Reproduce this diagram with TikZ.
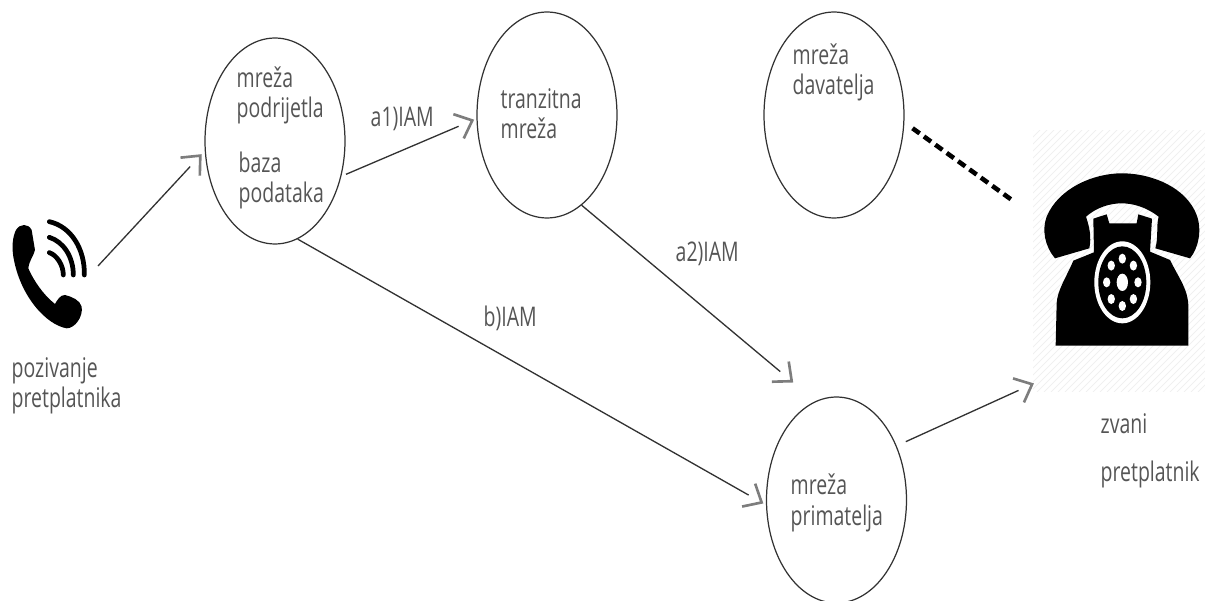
\documentclass[tikz,border=0pt]{standalone}
\usepackage{fontspec}
\setmainfont[FakeStretch=0.72]{Open Sans}
\usepackage{tikz}
\usetikzlibrary{positioning, shapes, arrows.meta}
\definecolor{mytext}{RGB}{85, 85, 85}
\definecolor{myline}{RGB}{50, 50, 50}
\definecolor{mybarb}{RGB}{125, 125, 125}
\definecolor{myhatch}{RGB}{240, 240, 240}

% open head that stands off from the end of its line
\pgfdeclarearrow{
  name = Gap Barb,
  setup code = {
    \pgfarrowssettipend{0pt}
    \pgfarrowssetlineend{-8.5pt}
    \pgfarrowssetvisualbackend{-8.5pt}
    \pgfarrowssetbackend{-8.5pt}
    \pgfarrowshullpoint{0pt}{0pt}
    \pgfarrowsupperhullpoint{-8.5pt}{7.5pt}
  },
  drawing code = {
    \pgfsetlinewidth{1.5pt}
    \pgfsetstrokecolor{mybarb}
    \pgfsetmiterjoin
    \pgfpathmoveto{\pgfqpoint{-8.5pt}{7.5pt}}
    \pgfpathlineto{\pgfqpoint{0pt}{0pt}}
    \pgfpathlineto{\pgfqpoint{-8.5pt}{-7.5pt}}
    \pgfusepathqstroke
  }
}

\begin{document}
\begin{tikzpicture}[x = 0.02cm, y = -0.02cm, thick,
    state/.style = {draw = myline, ellipse, line width = 0.7pt, inner sep = 0pt, minimum width = 2.8cm, minimum height = 4.12cm},
    icon/.style = {inner sep = 0pt, outer sep = 0pt},
    txt/.style = {align = left, anchor = base west, inner sep = 0pt, text = mytext, font = \fontsize{15.4}{17.6}\selectfont},
    flow/.style = {draw = myline, line width = 0.75pt, -{Gap Barb}}]
  \useasboundingbox (0, 0) rectangle (1205, 601);

  % nodes
  \node [state] (origin) at (275, 141) {};
  \node [state] (transit) at (547, 115) {};
  \node [state] (donor) at (834, 115) {};
  \node [state] (recipient) at (836.5, 500) {};
  \node [icon, minimum width = 1.72cm, minimum height = 2cm] (caller) at (55, 266) {};
  \node [icon, minimum width = 3.44cm, minimum height = 5.24cm] (callee) at (1119, 261) {};

  % hatch behind the telephone
  \begin{scope}
    \clip (callee.south west) rectangle (callee.north east);
    \foreach \i in {0, 7, ..., 440}
      \draw [myhatch, line width = 0.5pt] (1033 - 262 + \i, 392) -- (1033 + \i, 130);
  \end{scope}

  % telephone
  \begin{scope}[shift = {(1000, 120)}, x = 0.02cm / 3, y = -0.02cm / 3]
    \fill [black] (320, 283) -- (328, 310) -- (410, 310) -- (415, 283) -- (456, 296) -- (450, 395) -- (510, 420)
      .. controls (540, 480) and (565, 510) .. (565, 560) -- (565, 677) -- (167, 677) -- (170, 550)
      .. controls (172, 510) and (200, 470) .. (220, 422) -- (282, 397) -- (280, 296) -- cycle;
    \fill [black] (165, 415) .. controls (135, 380) and (125, 330) .. (140, 290)
      .. controls (175, 205) and (280, 160) .. (365, 160)
      .. controls (460, 160) and (560, 205) .. (590, 285)
      .. controls (607, 330) and (595, 385) .. (570, 415) -- (466, 385)
      .. controls (476, 350) and (468, 320) .. (476, 290)
      .. controls (440, 262) and (400, 250) .. (365, 250)
      .. controls (330, 250) and (290, 262) .. (258, 290)
      .. controls (268, 320) and (275, 350) .. (268, 385) -- cycle;
    \fill [white] (367, 487) ellipse [x radius = 84, y radius = 123];
    \fill [black] (367, 487) ellipse [x radius = 72, y radius = 108];
    \fill [white] (367, 487) ellipse [x radius = 17, y radius = 26];
    \foreach \a in {0, 45, ..., 315}
      \fill [white] ({367 + 47 * cos(\a)}, {487 + 71 * sin(\a)}) ellipse [x radius = 11, y radius = 15];
  \end{scope}

  % calling handset
  \begin{scope}[shift = {(0, 200)}, x = 0.02cm / 3, y = -0.02cm / 3]
    \fill [black] (48, 90) .. controls (60, 70) and (85, 70) .. (95, 90) -- (105, 150)
      .. controls (100, 170) and (88, 180) .. (85, 205)
      .. controls (100, 240) and (130, 285) .. (165, 312)
      .. controls (172, 300) and (180, 285) .. (195, 285)
      .. controls (215, 290) and (240, 300) .. (245, 320)
      .. controls (250, 350) and (225, 385) .. (200, 385)
      .. controls (140, 375) and (60, 290) .. (40, 170)
      .. controls (35, 140) and (38, 110) .. (48, 90) -- cycle;
    \draw [black, line width = 2.7pt, line cap = round] (148, 65) .. controls (215, 80) and (255, 150) .. (253, 225);
    \draw [black, line width = 2.7pt, line cap = round] (148, 112) .. controls (190, 125) and (220, 170) .. (220, 225);
    \draw [black, line width = 2.7pt, line cap = round] (148, 158) .. controls (170, 165) and (190, 195) .. (190, 225);
  \end{scope}

  % labels
  \node [txt] (origin_name) at (236, 118) {mreža\\podrijetla};
  \node [txt] (origin_base) at (238, 203) {baza\\podataka};
  \node [txt] (transit_name) at (500, 139) {tranzitna\\mreža};
  \node [txt] (donor_name) at (792, 95) {mreža\\davatelja};
  \node [txt] (recipient_name) at (790, 525) {mreža\\primatelja};
  \node [txt] (caller_name) at (11, 408) {pozivanje\\pretplatnika};
  \node [txt] (callee_name) at (1100, 482) {zvani\\[10pt]pretplatnik};
  \node [txt] (a1) at (370, 127) {a1)IAM};
  \node [txt] (a2) at (675, 262) {a2)IAM};
  \node [txt] (b) at (483, 327) {b)IAM};

  % edges
  \draw [flow, shorten > = 0.13cm] (caller.east) to (origin.188);
  \draw [flow, shorten < = 0.1cm, shorten > = 0.09cm] (origin.-28.4) to (transit.183.7);
  \draw [flow, shorten > = 0.62cm] (transit.-69.6) to (recipient.102.4);
  \draw [flow, shorten > = 0.1cm] (origin.-77.7) to (recipient.184.9);
  \draw [flow, shorten < = 0.2cm, shorten > = 0.02cm] (recipient.42.9) to (callee.235.3);
  \draw [dash pattern = on 5pt off 3pt, line width = 2.6pt, shorten < = 0.2cm, shorten > = 0.5cm] (donor.-6.1) to (callee.152.1);
\end{tikzpicture}
\end{document}
